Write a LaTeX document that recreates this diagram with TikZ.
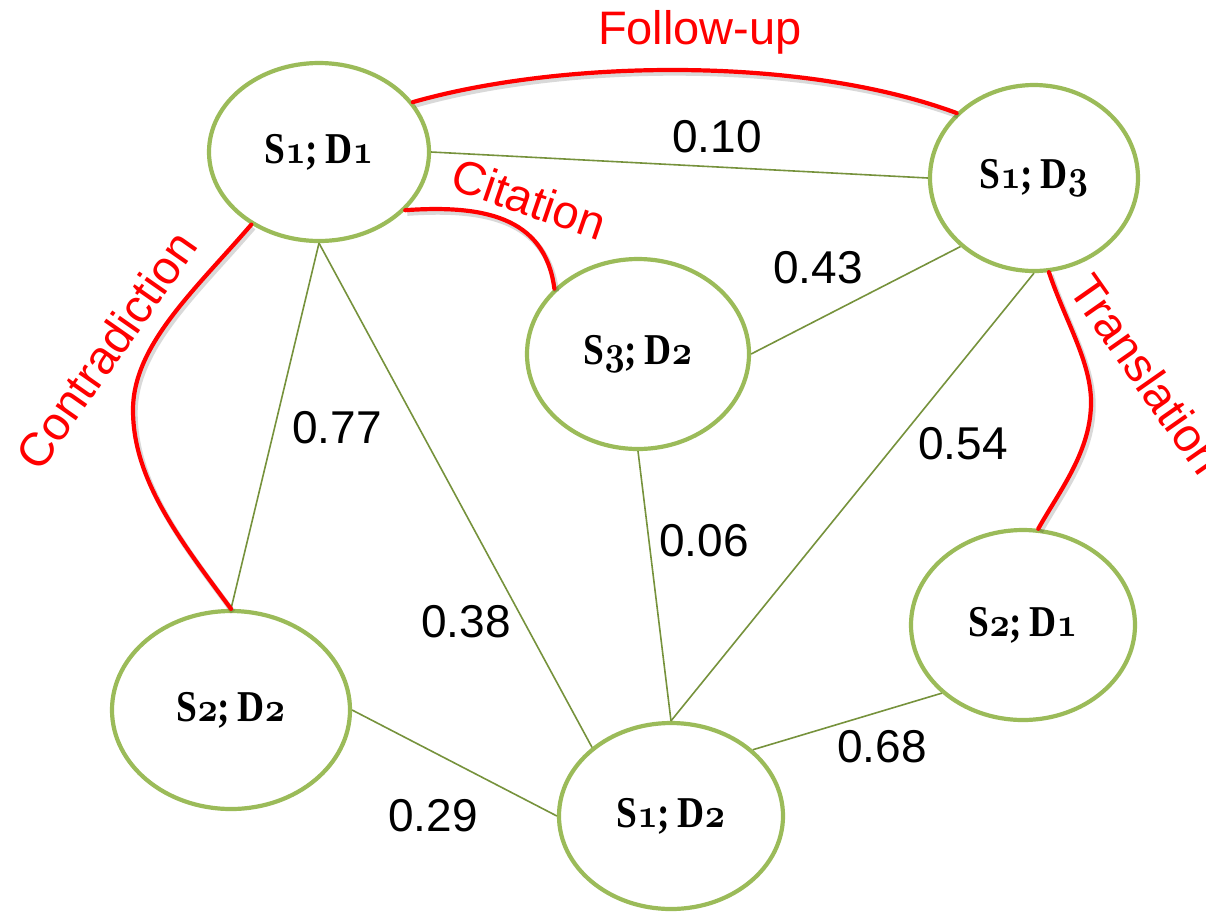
\documentclass[tikz,border=0pt]{standalone}
\usepackage{fontspec}
\usepackage{graphicx}
\usetikzlibrary{shapes.geometric}
\newfontfamily\labelfont{Liberation Sans}
\newfontfamily\docserif{Liberation Serif}
\definecolor{nodegreen}{HTML}{9BBB59}
\definecolor{edgeolive}{HTML}{76923C}
\newcommand\docfont{\docserif\bfseries\fontsize{22}{26}\selectfont}
% old-style bold figures
\newcommand\osn[1]{{\boldmath$\mathnormal{#1}$}}
\newcommand\doclabel[2]{\scalebox{0.85}[1]{S\osn{#1};\hspace{0.2em}D\osn{#2}}}
\begin{document}
\begin{tikzpicture}[x=0.5pt,y=-0.5pt,
  doc/.style={ellipse, draw=nodegreen, line width=2.1pt, fill=white, inner sep=0pt, font=\docfont},
  link/.style={draw=edgeolive, line width=0.8pt},
  rel/.style={draw=red, line width=2.1pt, line cap=round,
    preaction={draw=black, draw opacity=0.15, line width=2.7pt,
      transform canvas={shift={(1pt,-1.5pt)}}}},
  weight/.style={font=\labelfont\fontsize{23}{27}\selectfont, inner sep=0pt},
  reltext/.style={font=\labelfont\fontsize{23.5}{27}\selectfont, text=red, inner sep=0pt}]
\useasboundingbox (0,0) rectangle (1206,912);

% documents
\node[doc, minimum width=110pt, minimum height=89pt] (s11) at (319,152) {\doclabel{1}{1}};
\node[doc, minimum width=104pt, minimum height=93pt] (s13) at (1034,178) {\doclabel{1}{3}};
\node[doc, minimum width=111pt, minimum height=95pt] (s32) at (638,354) {\doclabel{3}{2}};
\node[doc, minimum width=119pt, minimum height=99pt] (s22) at (231,710) {\doclabel{2}{2}};
\node[doc, minimum width=112pt, minimum height=93pt] (s12) at (671,816) {\doclabel{1}{2}};
\node[doc, minimum width=112pt, minimum height=95pt] (s21) at (1023,625) {\doclabel{2}{1}};

% similarity links
\draw[link] (s11.east) -- (s13.west);
\draw[link] (s11.south) -- (s22.north);
\draw[link] (s11.south) -- (s12.139);
\draw[link] (s32.south) -- (s12.north);
\draw[link] (s32.east) -- (s13.223);
\draw[link] (s13.south) -- (s12.north);
\draw[link] (s21.220) -- (s12.39);
\draw[link] (s22.east) -- (s12.west);

% similarity values
\node[weight] (w1) at (717,137) {0.10};
\node[weight] (w2) at (818,268) {0.43};
\node[weight] (w3) at (337,428) {0.77};
\node[weight] (w4) at (963,444) {0.54};
\node[weight] (w5) at (704,541) {0.06};
\node[weight] (w6) at (466,622) {0.38};
\node[weight] (w7) at (882,747) {0.68};
\node[weight] (w8) at (433,816) {0.29};

% typed relations
\draw[rel] (s11.28) .. controls (560,60) and (800,55) .. (s13.140);
\draw[rel] (s11.326) .. controls (480,205) and (545,215) .. (s32.142);
\draw[rel] (s11.227) .. controls (195,290) and (133,345) .. (133,410)
  .. controls (133,480) and (180,540) .. (s22.north);
\draw[rel] (s13.279) .. controls (1065,320) and (1090,360) .. (1091,400)
  .. controls (1092,450) and (1060,490) .. (s21.81);

\node[reltext] (t1) at (700,32) {Follow-up};
\node[reltext, rotate=-19] (t2) at (529,199) {Citation};
\node[reltext, rotate=55] (t3) at (106,350) {Contradiction};
\node[reltext, rotate=-55] (t4) at (1147,374) {Translation};
\end{tikzpicture}
\end{document}
